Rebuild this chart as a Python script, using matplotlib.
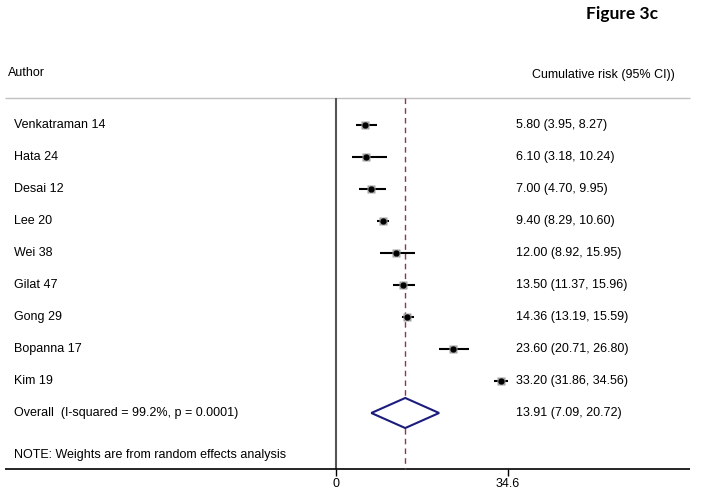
import numpy as np
import matplotlib.pyplot as plt
import matplotlib

matplotlib.rcParams['font.family'] = ['Liberation Sans', 'DejaVu Sans']

# study data (cumulative risk, 95% CI)
authors = ['Venkatraman 14', 'Hata 24', 'Desai 12', 'Lee 20', 'Wei 38',
           'Gilat 47', 'Gong 29', 'Bopanna 17', 'Kim 19']
est = [5.80, 6.10, 7.00, 9.40, 12.00, 13.50, 14.36, 23.60, 33.20]
lo = [3.95, 3.18, 4.70, 8.29, 8.92, 11.37, 13.19, 20.71, 31.86]
hi = [8.27, 10.24, 9.95, 10.60, 15.95, 15.96, 15.59, 26.80, 34.56]
overall = (13.91, 7.09, 20.72)
overall_label = 'Overall  (I-squared = 99.2%, p = 0.0001)'
xticks = [0, 34.6]

fig = plt.figure(figsize=(7.01, 4.99), dpi=100)
ax = fig.add_axes([0, 0, 1, 1])
ax.set_xlim(-67.6, 73.4)
ax.set_ylim(11.6875, -3.906)
ax.axis('off')

ytop, ybot = -0.84, 10.75
xl, xr = -66.6, 71.2

# header
ax.text(622, 13, 'Figure 3c', transform=None, ha='center', va='center',
        fontsize=12.5, fontweight='bold', family=['Lato', 'DejaVu Sans'])
# transform=None uses display pixels from bottom-left, so flip y
ax.texts[-1].set_position((622, 499 - 14))
ax.text(-66.0, -1.62, 'Author', fontsize=9, va='center')
ax.text(39.4, -1.56, 'Cumulative risk (95% CI))', fontsize=9, va='center')
ax.hlines(ytop, xl, xr, color='#c0c0c0', lw=1)

# axes lines
ax.vlines(0, ytop, ybot, color='#555555', lw=1.5)
ax.hlines(ybot, xl, xr, color='black', lw=1.2)
ax.vlines(overall[0], ytop, ybot, color='#8b3a4a', lw=1, linestyles=(0, (4, 3)))
for t in xticks:
    ax.vlines(t, ybot, ybot + 0.22, color='black', lw=1)
    ax.text(t, 11.22, f'{t:g}', ha='center', va='center', fontsize=9)

# studies
for i, a in enumerate(authors):
    ax.text(-64.8, i, a, fontsize=9, va='center')
    ax.hlines(i, lo[i], hi[i], color='black', lw=1.5)
    ax.plot(est[i], i, 's', color='#a0a0a0', ms=6, mec='none')
    ax.plot(est[i], i, 'o', color='black', ms=3.5)
    ax.text(36.2, i, f'{est[i]:.2f} ({lo[i]:.2f}, {hi[i]:.2f})', fontsize=9, va='center')

# overall diamond
k = len(authors)
m, l, h = overall
ax.fill([l, m, h, m, l], [k, k - 0.47, k, k + 0.47, k], facecolor='white',
        edgecolor='#1c1c7c', lw=1.5, zorder=3)
ax.text(-64.8, k, overall_label, fontsize=9, va='center')
ax.text(36.2, k, f'{m:.2f} ({l:.2f}, {h:.2f})', fontsize=9, va='center')

ax.text(-64.8, 10.31, 'NOTE: Weights are from random effects analysis', fontsize=9, va='center')

fig.savefig('out.png', dpi=100)
